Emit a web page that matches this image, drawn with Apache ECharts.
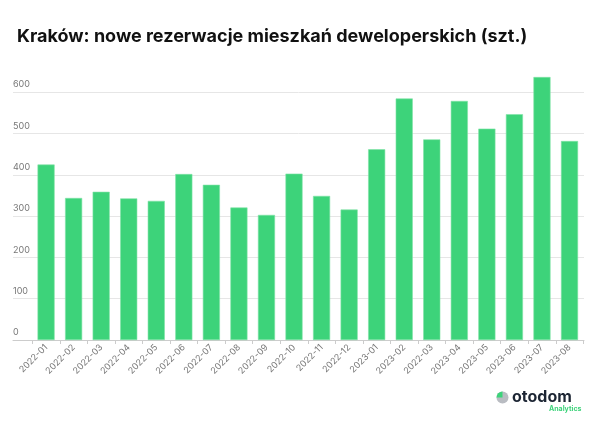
<!DOCTYPE html>
<html>
<head>
<meta charset="utf-8">
<script src="https://cdn.jsdelivr.net/npm/echarts@6/dist/echarts.min.js"></script>
<style>html,body{margin:0;padding:0;background:#fff}#c{width:600px;height:423px}</style>
</head>
<body>
<div id="c"></div>
<script>
const categories = ["2022-01","2022-02","2022-03","2022-04","2022-05","2022-06","2022-07","2022-08","2022-09","2022-10","2022-11","2022-12","2023-01","2023-02","2022-03","2023-04","2023-05","2023-06","2023-07","2023-08"];
const reservations = [425,344,359,343,337,402,376,321,303,403,349,316,462,585,486,579,512,547,637,482];
const yTicks = [0,100,200,300,400,500,600];

const chart = echarts.init(document.getElementById('c'), null, {renderer:'canvas'});
const yMax = 650;
const gridTop = 71.65, gridBottom = 83;
chart.setOption({
  animation:false,
  backgroundColor:'#ffffff',
  title:{
    text:'Kraków: nowe rezerwacje mieszkań deweloperskich (szt.)',
    left:12, top:23,
    textStyle:{fontFamily:'Inter', fontWeight:'bold', fontSize:18, color:'#111111'}
  },
  grid:[
    {left:13, right:16, top:gridTop, bottom:gridBottom},
    {left:32.3, right:16.7, top:gridTop, bottom:gridBottom}
  ],
  xAxis:[
    {gridIndex:0, type:'value', min:0, max:1, show:true,
     axisLine:{show:true, onZero:false, lineStyle:{color:'#cccccc', width:1}},
     axisTick:{show:false}, axisLabel:{show:false}, splitLine:{show:false}},
    {gridIndex:1, type:'category', data:categories,
     axisLine:{show:false},
     axisTick:{show:true, length:4, lineStyle:{color:'#cccccc'}},
     axisLabel:{interval:0, rotate:45, fontFamily:'Inter', fontSize:9, color:'#777777', margin:6}}
  ],
  yAxis:[
    {gridIndex:0, type:'value', min:0, max:yMax, interval:100,
     axisLine:{show:false}, axisTick:{show:false},
     axisLabel:{inside:true, margin:0, align:'left', verticalAlign:'bottom', padding:[0,0,3,0],
       fontFamily:'Inter', fontSize:9, color:'#777777', showMaxLabel:false,
       formatter:function(v){ return yTicks.indexOf(v) >= 0 ? String(v) : ''; }},
     splitLine:{show:true, showMaxLine:false, lineStyle:{color:'#e6e6e6', width:1}}},
    {gridIndex:1, type:'value', min:0, max:yMax, interval:100, show:false}
  ],
  series:[{
    type:'bar', xAxisIndex:1, yAxisIndex:1, data:reservations,
    barWidth:'62%',
    itemStyle:{color:'#3dd37a', borderColor:'#7fe3a6', borderWidth:0.6}
  }],
  graphic:[
    {type:'sector', shape:{cx:502.5, cy:397.5, r:6, r0:0, startAngle:0, endAngle:Math.PI*2}, style:{fill:'#b9bcc2'}},
    {type:'sector', shape:{cx:502.5, cy:397.5, r:6, r0:0, startAngle:Math.PI, endAngle:Math.PI*1.5}, style:{fill:'#3dd37a'}},
    {type:'text', left:512, top:389, style:{text:'otodom', font:'bold 16px Inter', fill:'#1c2533'}},
    {type:'text', left:549, top:405, style:{text:'Analytics', font:'bold 7px Inter', fill:'#3dd37a'}}
  ]
});
</script>
</body>
</html>
